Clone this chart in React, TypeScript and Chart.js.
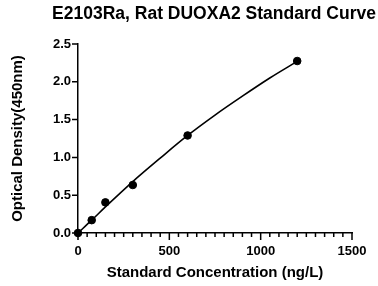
import React, { useEffect, useRef } from "react";
import { Chart, registerables } from "chart.js";

Chart.register(...registerables);

const chartTitle = "E2103Ra, Rat DUOXA2 Standard Curve";
const xAxisTitle = "Standard Concentration (ng/L)";
const yAxisTitle = "Optical Density(450nm)";

// Standard points
const concentrations = [0, 75, 150, 300, 600, 1200];
const odValues = [0.0, 0.17, 0.405, 0.635, 1.29, 2.275];

// Fitted curve
const fitX = [0, 75, 150, 300, 450, 600, 750, 900, 1050, 1200];
const fitY = [0, 0.17, 0.345, 0.68, 0.99, 1.29, 1.56, 1.81, 2.05, 2.27];

const FONT = "'Liberation Sans', Arial, Helvetica, sans-serif";

const axisPlugin = {
  id: "customTicksAndTitle",
  afterDraw(chart: any) {
    const { ctx, chartArea, scales } = chart;
    const x = scales.x;
    const y = scales.y;
    ctx.save();
    ctx.strokeStyle = "#000";
    ctx.lineWidth = 1.5;
    ctx.beginPath();
    for (const t of x.ticks) {
      const px = x.getPixelForValue(t.value);
      const len = t.value % 500 === 0 ? 7 : 4;
      ctx.moveTo(px, chartArea.bottom);
      ctx.lineTo(px, chartArea.bottom + len);
    }
    for (const t of y.ticks) {
      const py = y.getPixelForValue(t.value);
      ctx.moveTo(chartArea.left - 6, py);
      ctx.lineTo(chartArea.left, py);
    }
    ctx.stroke();
    ctx.fillStyle = "#000";
    ctx.font = `bold 17.5px ${FONT}`;
    ctx.textAlign = "center";
    ctx.textBaseline = "middle";
    ctx.fillText(chartTitle, (chartArea.left + chartArea.right) / 2 - 1, 14);
    ctx.restore();
  },
};

export default function App() {
  const ref = useRef<HTMLCanvasElement>(null);
  useEffect(() => {
    document.body.style.margin = "0";
    const canvas = ref.current!;
    const chart = new Chart(canvas, {
      type: "scatter",
      data: {
        datasets: [
          {
            label: "fit",
            data: fitX.map((v, i) => ({ x: v, y: fitY[i] })),
            showLine: true,
            borderColor: "#000",
            borderWidth: 1.6,
            pointRadius: 0,
            cubicInterpolationMode: "monotone",
            clip: false as any,
          },
          {
            label: "standards",
            data: concentrations.map((v, i) => ({ x: v, y: odValues[i] })),
            showLine: false,
            backgroundColor: "#000",
            borderColor: "#000",
            pointRadius: 3.8,
            clip: false as any,
          },
        ],
      },
      options: {
        responsive: false,
        animation: false,
        layout: { padding: { left: 0, right: 26, top: 44, bottom: 0 } },
        plugins: {
          legend: { display: false },
          title: { display: false },
          tooltip: { enabled: false },
        },
        scales: {
          x: {
            type: "linear",
            min: 0,
            max: 1500,
            afterFit: (s: any) => {
              s.height = 53;
            },
            ticks: {
              stepSize: 50,
              autoSkip: false,
              maxRotation: 0,
              padding: 4,
              color: "#000",
              font: { family: FONT, size: 13, weight: "bold" },
              callback: (v: any) => (Number(v) % 500 === 0 ? String(v) : ""),
            },
            grid: {
              drawOnChartArea: false,
              drawTicks: true,
              tickLength: 7,
              color: "rgba(0,0,0,0)",
            },
            border: { color: "#000", width: 1.5 },
            title: {
              display: true,
              text: xAxisTitle,
              color: "#000",
              font: { family: FONT, size: 15, weight: "bold" },
              padding: { top: 0, bottom: 4 },
            },
          },
          y: {
            type: "linear",
            min: 0,
            max: 2.5,
            afterFit: (s: any) => {
              s.width = 78;
            },
            ticks: {
              stepSize: 0.5,
              padding: 1,
              color: "#000",
              font: { family: FONT, size: 13, weight: "bold" },
              callback: (v: any) => Number(v).toFixed(1),
            },
            grid: {
              drawOnChartArea: false,
              drawTicks: true,
              tickLength: 6,
              color: "rgba(0,0,0,0)",
            },
            border: { color: "#000", width: 1.5 },
            title: {
              display: true,
              text: yAxisTitle,
              color: "#000",
              font: { family: FONT, size: 15, weight: "bold" },
              padding: { top: 9, bottom: 0 },
            },
          },
        },
      },
      plugins: [axisPlugin],
    });
    return () => chart.destroy();
  }, []);
  return (
    <div style={{ width: 378, height: 286 }}>
      <canvas ref={ref} width={378} height={286} />
    </div>
  );
}
